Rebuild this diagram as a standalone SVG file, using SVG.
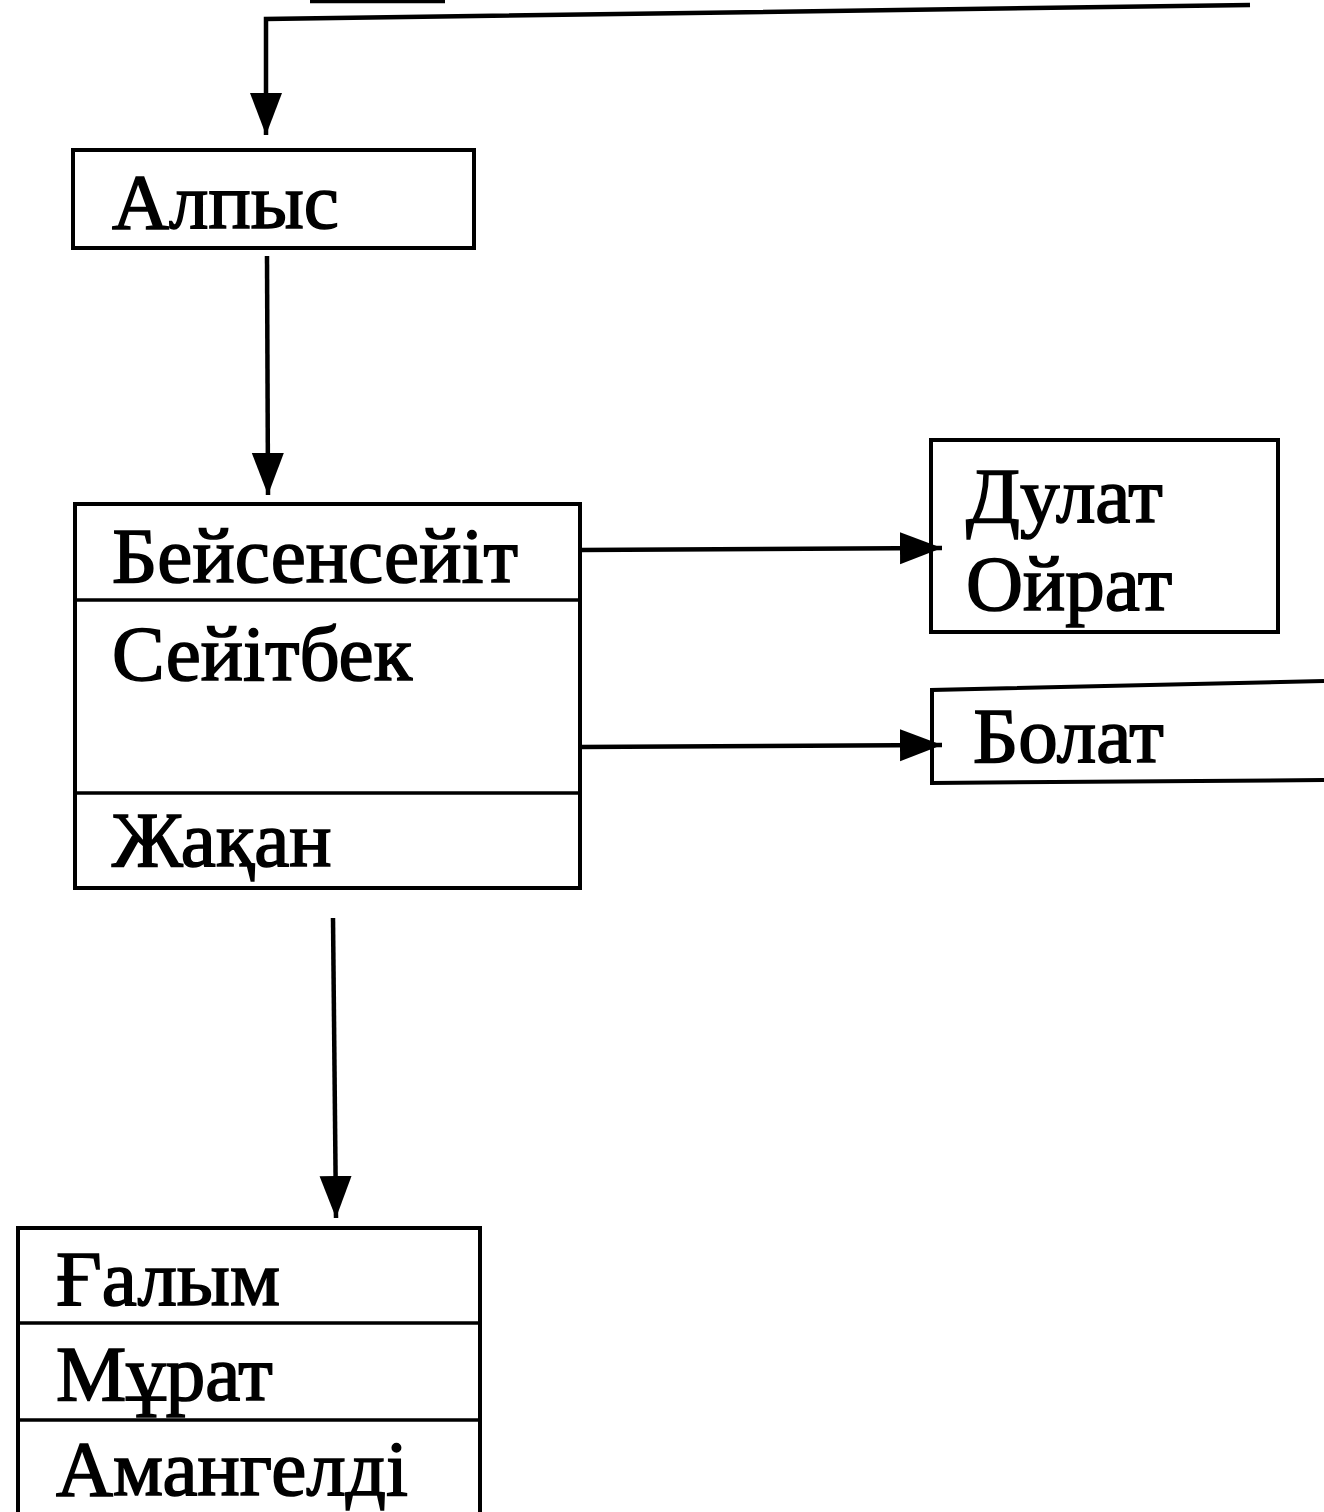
<svg xmlns="http://www.w3.org/2000/svg" width="1324" height="1512" viewBox="0 0 1324 1512">
<style>
.box{fill:none;stroke:#000;stroke-width:4}
.div{stroke:#000;stroke-width:3.5}
.conn{fill:none;stroke:#000;stroke-width:4.5}
.t{font-family:"Liberation Serif","Times New Roman",serif;font-size:79px;fill:#000;stroke:#000;stroke-width:1.6}
</style>
<defs>
<marker id="ah" markerUnits="userSpaceOnUse" markerWidth="44" markerHeight="34" refX="42" refY="16" orient="auto">
<path d="M0,0 L42,16 L0,32 z" fill="#000"/>
</marker>
</defs>
<rect width="1324" height="1512" fill="#fff"/>
<g id="connectors">
<line class="conn" x1="310" y1="1" x2="445" y2="1"/>
<polyline class="conn" points="1250,5 266,19 266,135" marker-end="url(#ah)"/>
<line class="conn" x1="267" y1="256" x2="268" y2="495" marker-end="url(#ah)"/>
<line class="conn" x1="580" y1="550" x2="942" y2="548" marker-end="url(#ah)"/>
<line class="conn" x1="580" y1="747" x2="942" y2="745" marker-end="url(#ah)"/>
<line class="conn" x1="333" y1="918" x2="336" y2="1218" marker-end="url(#ah)"/>
</g>
<g id="node-alpys">
<rect class="box" x="73" y="150" width="401" height="98"/>
<text class="t" x="112" y="228">Алпыс</text>
</g>
<g id="node-beisenseit">
<rect class="box" x="75" y="504" width="505" height="384"/>
<line class="div" x1="75" y1="600" x2="580" y2="600"/>
<line class="div" x1="75" y1="793" x2="580" y2="793"/>
<text class="t" x="112" y="582">Бейсенсейіт</text>
<text class="t" x="112" y="680">Сейітбек</text>
<text class="t" x="112" y="866">Жақан</text>
</g>
<g id="node-dulat">
<rect class="box" x="931" y="440" width="347" height="192"/>
<text class="t" x="966" y="522">Дулат</text>
<text class="t" x="966" y="610">Ойрат</text>
</g>
<g id="node-bolat">
<polyline class="box" points="1324,681 932,690 932,783 1324,780"/>
<text class="t" x="973" y="762">Болат</text>
</g>
<g id="node-galym">
<rect class="box" x="18" y="1228" width="462" height="290"/>
<line class="div" x1="18" y1="1323" x2="480" y2="1323"/>
<line class="div" x1="18" y1="1420" x2="480" y2="1420"/>
<text class="t" x="56" y="1305">Ғалым</text>
<text class="t" x="56" y="1400">Мұрат</text>
<text class="t" x="56" y="1495">Амангелді</text>
</g>
</svg>
